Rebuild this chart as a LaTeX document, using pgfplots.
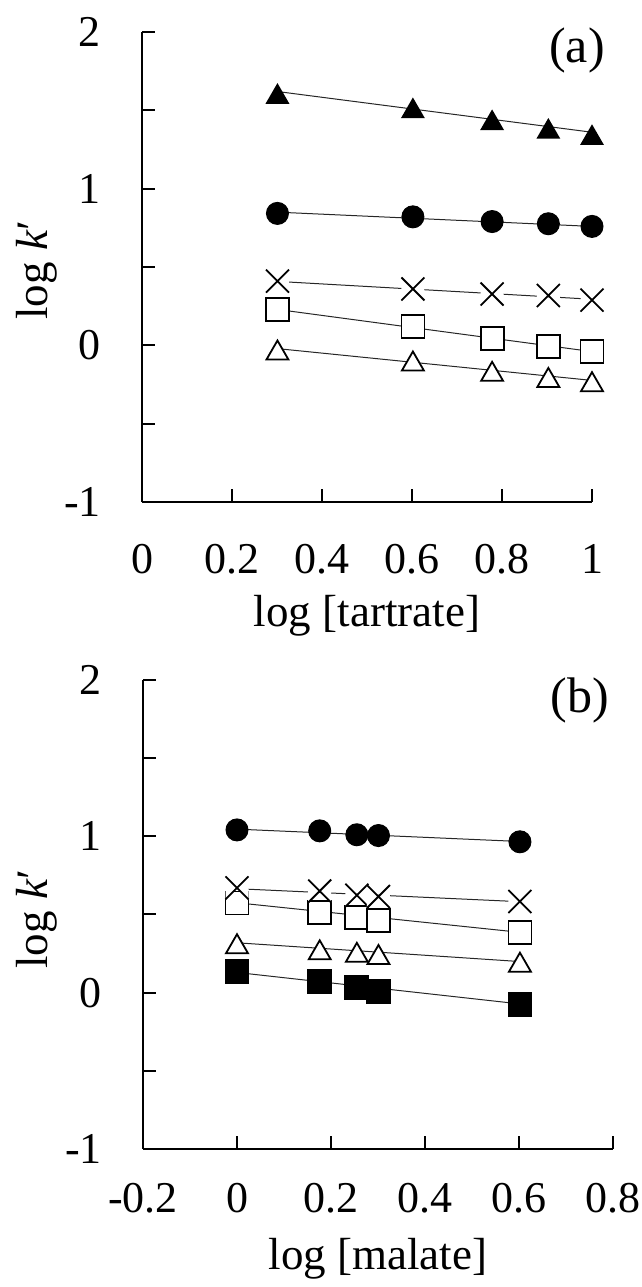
\documentclass[border=0pt]{standalone}
\usepackage{fontspec}
\setmainfont{Liberation Serif}
\usepackage{pgfplots}
\pgfplotsset{compat=1.18}

% triangle whose bounding box is centred on the data point
\pgfdeclareplotmark{tri}{%
  \pgfpathmoveto{\pgfqpoint{0pt}{\pgfplotmarksize}}%
  \pgfpathlineto{\pgfqpoint{-1.155\pgfplotmarksize}{-\pgfplotmarksize}}%
  \pgfpathlineto{\pgfqpoint{1.155\pgfplotmarksize}{-\pgfplotmarksize}}%
  \pgfpathclose
  \pgfusepathqfillstroke}
% cross with a white bow-tie behind it
\pgfdeclareplotmark{xbow}{%
  \pgfpathmoveto{\pgfqpoint{-\pgfplotmarksize}{-\pgfplotmarksize}}%
  \pgfpathlineto{\pgfqpoint{\pgfplotmarksize}{\pgfplotmarksize}}%
  \pgfpathlineto{\pgfqpoint{\pgfplotmarksize}{-\pgfplotmarksize}}%
  \pgfpathlineto{\pgfqpoint{-\pgfplotmarksize}{\pgfplotmarksize}}%
  \pgfpathclose
  \pgfsetfillcolor{white}%
  \pgfusepathqfill
  \pgfpathmoveto{\pgfqpoint{-\pgfplotmarksize}{-\pgfplotmarksize}}%
  \pgfpathlineto{\pgfqpoint{\pgfplotmarksize}{\pgfplotmarksize}}%
  \pgfpathmoveto{\pgfqpoint{\pgfplotmarksize}{-\pgfplotmarksize}}%
  \pgfpathlineto{\pgfqpoint{-\pgfplotmarksize}{\pgfplotmarksize}}%
  \pgfusepathqstroke}

\pgfplotsset{
  panel/.style={
    scale only axis,
    clip=false,
    axis x line=bottom, axis y line=left,
    axis line style={line width=2pt, -},
    tick align=inside,
    major tick length=13pt,
    tick style={line width=2pt, black},
    ymin=-1, ymax=2,
    ytick={-1,-0.5,0,0.5,1,1.5,2},
    yticklabels={-1,,0,,1,,2},
    ticklabel style={font=\fontsize{44}{50}\selectfont, inner sep=0pt},
    yticklabel style={anchor=east, xshift=-41pt},
    xticklabel style={anchor=base},
  },
  fit/.style={no marks, line width=1pt, black!85},
  ftri/.style={only marks, mark=tri, mark size=9pt,
    mark options={line width=1.8pt, draw=black, fill=black}},
  otri/.style={only marks, mark=tri, mark size=9.5pt,
    mark options={line width=1.8pt, draw=black, fill=white}},
  fcirc/.style={only marks, mark=*, mark size=11pt,
    mark options={line width=1pt, draw=black, fill=black}},
  osq/.style={only marks, mark=square*, mark size=11.5pt,
    mark options={line width=1.8pt, draw=black, fill=white}},
  fsq/.style={only marks, mark=square*, mark size=11.5pt,
    mark options={line width=1.8pt, draw=black, fill=black}},
  xpt/.style={only marks, mark=xbow, mark size=11.5pt,
    mark options={line width=1.8pt, draw=black}},
}

\begin{document}
\begin{tikzpicture}
\useasboundingbox (0,0) rectangle (641pt,1287pt);

% (a) tartrate
\begin{axis}[panel,
  at={(142pt,785pt)}, anchor=south west,
  width=450pt, height=470pt,
  xmin=0, xmax=1,
  xtick={0,0.2,0.4,0.6,0.8,1},
  xticklabels={0,0.2,0.4,0.6,0.8,1},
  xticklabel style={yshift=-72pt},
]
\addplot[ftri] coordinates {(0.301,1.605) (0.602,1.513) (0.778,1.437) (0.903,1.382) (1,1.342)};
\addplot[fcirc] coordinates {(0.301,0.842) (0.602,0.820) (0.778,0.790) (0.903,0.776) (1,0.759)};
\addplot[osq] coordinates {(0.301,0.229) (0.602,0.121) (0.778,0.046) (0.903,-0.007) (1,-0.038)};
\addplot[otri] coordinates {(0.301,-0.030) (0.602,-0.100) (0.778,-0.166) (0.903,-0.205) (1,-0.232)};
\addplot[xpt] coordinates {(0.301,0.410) (0.602,0.360) (0.778,0.327) (0.903,0.318) (1,0.289)};
% fitted lines
\addplot[fit] coordinates {(0.301,1.620) (1,1.360)};
\addplot[fit] coordinates {(0.301,0.850) (1,0.759)};
\addplot[fit] coordinates {(0.301,0.408) (1,0.294)};
\addplot[fit] coordinates {(0.301,0.229) (1,-0.040)};
\addplot[fit] coordinates {(0.301,-0.021) (1,-0.224)};
\end{axis}

% (b) malate
\begin{axis}[panel,
  at={(143pt,138pt)}, anchor=south west,
  width=470pt, height=469pt,
  xmin=-0.2, xmax=0.8,
  xtick={-0.2,0,0.2,0.4,0.6,0.8},
  xticklabels={-0.2,0,0.2,0.4,0.6,0.8},
  xticklabel style={yshift=-64pt},
]
\addplot[fcirc] coordinates {(0,1.041) (0.176,1.035) (0.255,1.010) (0.301,1.005) (0.602,0.965)};
\addplot[osq] coordinates {(0,0.573) (0.176,0.512) (0.255,0.483) (0.301,0.461) (0.602,0.386)};
\addplot[otri] coordinates {(0,0.313) (0.176,0.274) (0.255,0.258) (0.301,0.244) (0.602,0.195)};
\addplot[fsq] coordinates {(0,0.134) (0.176,0.072) (0.255,0.031) (0.301,0.005) (0.602,-0.076)};
\addplot[xpt] coordinates {(0,0.670) (0.176,0.650) (0.255,0.623) (0.301,0.615) (0.602,0.583)};
% fitted lines
\addplot[fit] coordinates {(0,1.046) (0.602,0.967)};
\addplot[fit] coordinates {(0,0.665) (0.602,0.582)};
\addplot[fit] coordinates {(0,0.575) (0.602,0.386)};
\addplot[fit] coordinates {(0,0.319) (0.602,0.199)};
\addplot[fit] coordinates {(0,0.129) (0.602,-0.072)};
\end{axis}

% axis titles and panel letters
\begin{scope}[every node/.style={inner sep=0pt, font=\fontsize{45}{52}\selectfont}]
\node[anchor=base] at (367pt,660pt) {log [tartrate]};
\node[anchor=base] at (378pt,17pt) {log [malate]};
\node[anchor=base, rotate=90] at (47pt,1017pt) {log \textit{k}′};
\node[anchor=base, rotate=90] at (47pt,368pt) {log \textit{k}′};
\node[anchor=base, font=\fontsize{50}{56}\selectfont] at (577pt,1224pt) {(a)};
\node[anchor=base, font=\fontsize{50}{56}\selectfont] at (580pt,574pt) {(b)};
\end{scope}
\end{tikzpicture}
\end{document}
